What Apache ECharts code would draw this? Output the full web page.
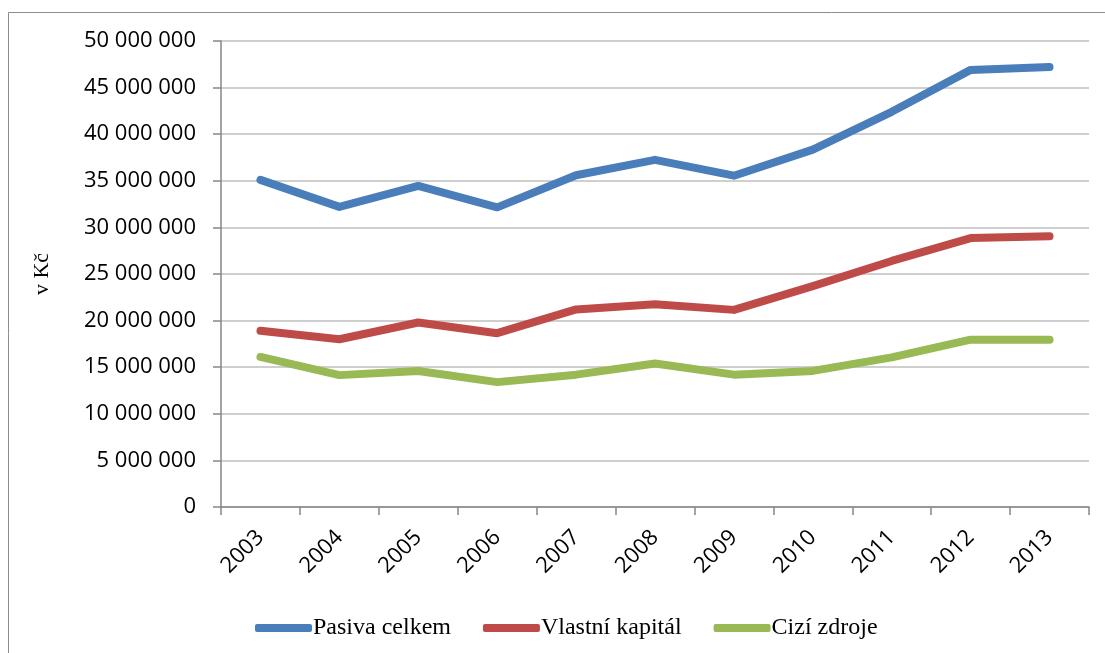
<!DOCTYPE html>
<html><head><meta charset="utf-8">
<script src="https://cdn.jsdelivr.net/npm/echarts@6/dist/echarts.min.js"></script>
<style>html,body{margin:0;padding:0;background:#fff}#c{width:1105px;height:653px}</style>
</head><body><div id="c"></div>
<script>
const years = ['2003','2004','2005','2006','2007','2008','2009','2010','2011','2012','2013'];
const pasivaCelkem = [35100000,32200000,34450000,32150000,35600000,37250000,35550000,38350000,42400000,46900000,47200000];
const vlastniKapital = [18900000,18000000,19800000,18650000,21200000,21750000,21150000,23700000,26400000,28850000,29050000];
const ciziZdroje = [16100000,14150000,14600000,13400000,14200000,15400000,14200000,14600000,16050000,17950000,17950000];
const seriesNames = ['Pasiva celkem','Vlastní kapitál','Cizí zdroje'];
const colors = ['#4a7ebb','#be4b48','#98b954'];

function fmt(v){return String(v).replace(/\B(?=(\d{3})+(?!\d))/g,' ');}

const chart = echarts.init(document.getElementById('c'));
const mk = (name, data, color) => ({
  name, type:'line', data, symbol:'none', smooth:false,
  lineStyle:{width:8,color,cap:'round',join:'round'}, itemStyle:{color}
});
chart.setOption({
  animation:false,
  graphic:[{type:'rect',shape:{x:8.5,y:12.5,width:1200,height:700},style:{fill:'none',stroke:'#8c8c8c',lineWidth:1}}],
  grid:{left:221,right:16,top:41,bottom:146},
  legend:{bottom:8,left:250,itemWidth:57,itemHeight:8,itemGap:32,icon:'roundRect',
    textStyle:{fontFamily:'Liberation Serif',fontSize:24,color:'#000',padding:[0,0,0,-4]},
    data:seriesNames},
  xAxis:{type:'category',data:years,boundaryGap:true,
    axisLine:{lineStyle:{color:'#868686',width:1.5}},
    axisTick:{show:true,length:8,inside:false,alignWithLabel:false,lineStyle:{color:'#868686',width:1.5}},
    axisLabel:{rotate:45,fontFamily:'Open Sans',fontSize:22,color:'#000',margin:27}},
  yAxis:{type:'value',min:0,max:50000000,interval:5000000,
    name:'v Kč',nameLocation:'middle',nameGap:168,nameRotate:90,
    nameTextStyle:{fontFamily:'Liberation Serif',fontSize:22,color:'#000'},
    axisLine:{show:true,lineStyle:{color:'#868686',width:1.5}},
    axisTick:{show:true,length:8,lineStyle:{color:'#868686',width:1.5}},
    splitLine:{lineStyle:{color:'#bfbfbf',width:1.5}},
    axisLabel:{formatter:fmt,fontFamily:'Open Sans',fontSize:22,color:'#000',margin:25}},
  series:[mk(seriesNames[0],pasivaCelkem,colors[0]),mk(seriesNames[1],vlastniKapital,colors[1]),mk(seriesNames[2],ciziZdroje,colors[2])]
});
</script></body></html>
